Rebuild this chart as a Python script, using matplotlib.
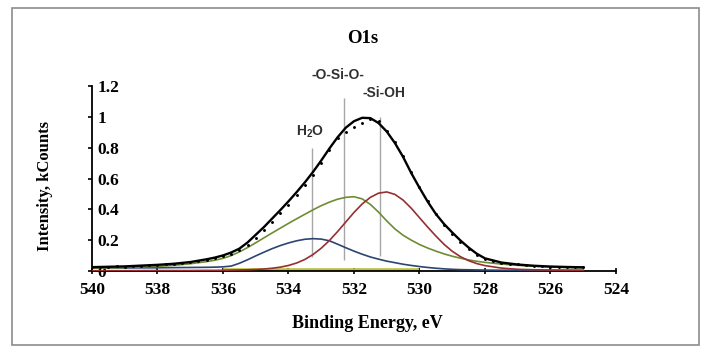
import numpy as np
import matplotlib
matplotlib.use("Agg")
import matplotlib.pyplot as plt
from matplotlib.patches import Rectangle

plt.rcParams["font.family"] = ["Liberation Serif", "DejaVu Serif"]
plt.rcParams["mathtext.fontset"] = "custom"
plt.rcParams["mathtext.rm"] = "Liberation Sans:bold"

# Binding energy grid (eV), denser where the peaks bend
energy = [540.0, 539.0, 538.0, 537.5, 537.0, 536.5, 536.25, 536.0, 535.75, 535.5,
          535.25, 535.0, 534.75, 534.5, 534.25, 534.0, 533.75, 533.5, 533.25, 533.0,
          532.75, 532.5, 532.25, 532.0, 531.75, 531.5, 531.25, 531.0, 530.75, 530.5,
          530.25, 530.0, 529.75, 529.5, 529.25, 529.0, 528.75, 528.5, 528.25, 528.0,
          527.5, 527.0, 526.5, 526.0, 525.5, 525.0]

envelope = [0.025, 0.030, 0.040, 0.047, 0.058, 0.076, 0.087, 0.101, 0.120, 0.145,
            0.185, 0.235, 0.285, 0.340, 0.395, 0.452, 0.512, 0.575, 0.643, 0.717,
            0.795, 0.868, 0.930, 0.972, 0.994, 0.992, 0.960, 0.905, 0.830, 0.740,
            0.635, 0.540, 0.450, 0.370, 0.305, 0.250, 0.198, 0.152, 0.112, 0.082,
            0.055, 0.042, 0.034, 0.029, 0.026, 0.024]

osio = [0.019, 0.023, 0.030, 0.037, 0.047, 0.061, 0.070, 0.082, 0.100, 0.124,
        0.152, 0.183, 0.215, 0.247, 0.278, 0.309, 0.339, 0.368, 0.397, 0.424,
        0.447, 0.466, 0.478, 0.482, 0.468, 0.432, 0.382, 0.325, 0.273, 0.232,
        0.200, 0.172, 0.149, 0.129, 0.111, 0.096, 0.083, 0.072, 0.063, 0.056,
        0.045, 0.037, 0.031, 0.026, 0.023, 0.020]

sioh = [0.002, 0.002, 0.003, 0.003, 0.003, 0.004, 0.004, 0.005, 0.006, 0.007,
        0.008, 0.010, 0.013, 0.018, 0.025, 0.036, 0.052, 0.075, 0.107, 0.148,
        0.198, 0.256, 0.318, 0.380, 0.435, 0.478, 0.505, 0.513, 0.497, 0.460,
        0.407, 0.346, 0.285, 0.227, 0.173, 0.128, 0.093, 0.067, 0.048, 0.035,
        0.019, 0.011, 0.008, 0.006, 0.005, 0.004]

h2o = [0.020, 0.020, 0.021, 0.022, 0.023, 0.024, 0.025, 0.027, 0.032, 0.050,
       0.073, 0.098, 0.122, 0.145, 0.165, 0.182, 0.196, 0.206, 0.210, 0.207,
       0.196, 0.174, 0.151, 0.129, 0.109, 0.091, 0.077, 0.064, 0.054, 0.044,
       0.036, 0.029, 0.023, 0.018, 0.014, 0.011, 0.009, 0.008, 0.007, 0.006,
       0.005, 0.005, 0.004, 0.004, 0.004, 0.004]

# background segment
bg_energy = [536.0, 530.0]
bg_level = [0.004, 0.004]

# measured points
pts_energy = [540.0, 539.75, 539.5, 539.25, 539.0, 538.75, 538.5, 538.25, 538.0, 537.75,
              537.5, 537.25, 537.0, 536.75, 536.5, 536.25, 536.0, 535.75, 535.5, 535.25,
              535.0, 534.75, 534.5, 534.25, 534.0, 533.75, 533.5, 533.25, 533.0, 532.75,
              532.5, 532.25, 532.0, 531.75, 531.5, 531.25, 531.0, 530.75, 530.5, 530.25,
              530.0, 529.75, 529.5, 529.25, 529.0, 528.75, 528.5, 528.25, 528.0, 527.75,
              527.5, 527.25, 527.0, 526.75, 526.5, 526.25, 526.0, 525.75, 525.5, 525.25,
              525.0]
pts_counts = [0.023, 0.027, 0.025, 0.030, 0.028, 0.034, 0.033, 0.039, 0.038, 0.045,
              0.046, 0.053, 0.056, 0.064, 0.073, 0.083, 0.096, 0.113, 0.136, 0.170,
              0.215, 0.265, 0.318, 0.375, 0.430, 0.490, 0.555, 0.625, 0.700, 0.785,
              0.860, 0.905, 0.935, 0.960, 0.985, 0.975, 0.910, 0.835, 0.745, 0.640,
              0.545, 0.455, 0.370, 0.298, 0.240, 0.190, 0.146, 0.106, 0.078, 0.064,
              0.054, 0.047, 0.043, 0.037, 0.035, 0.030, 0.029, 0.028, 0.025, 0.025,
              0.024]

# peak marker lines: position, bottom, top
marker_pos = [533.28, 532.3, 531.2]
marker_low = [0.09, 0.07, 0.10]
marker_high = [0.80, 1.12, 1.00]

fig = plt.figure(figsize=(7.02, 3.47), dpi=100)
ax = fig.add_axes([0.131, 0.219, 0.7465, 0.533])

ax.vlines(marker_pos, marker_low, marker_high, color="#a6a6a6", linewidth=1.0, zorder=1)
ax.plot(bg_energy, bg_level, color="#bcbf3a", linewidth=2.6, zorder=2, solid_capstyle="butt")
ax.plot(energy, h2o, color="#2b4570", linewidth=1.2, zorder=3)
ax.plot(energy, osio, color="#6e8c32", linewidth=1.2, zorder=3)
ax.plot(energy, sioh, color="#962f30", linewidth=1.2, zorder=3)
ax.plot(energy, envelope, color="black", linewidth=1.7, zorder=4)
ax.plot(pts_energy, pts_counts, linestyle="none", marker="o", markersize=1.1,
        color="black", zorder=5)

ax.set_xlim(540, 524)
ax.set_ylim(0, 1.2)
ax.set_xticks(np.arange(540, 523, -2))
ax.set_yticks([0, 0.2, 0.4, 0.6, 0.8, 1.0, 1.2])
ax.set_yticklabels(["0", "0.2", "0.4", "0.6", "0.8", "1", "1.2"])

for side in ["top", "right"]:
    ax.spines[side].set_visible(False)
for side in ["left", "bottom"]:
    ax.spines[side].set_linewidth(1.3)

ax.tick_params(axis="x", direction="inout", length=5, width=1.2, pad=5.5, labelsize=12.5)
ax.tick_params(axis="y", direction="out", length=3, width=1.2, pad=-7, labelsize=12.5)
for lab in ax.get_xticklabels() + ax.get_yticklabels():
    lab.set_fontweight("bold")
for lab in ax.get_yticklabels():
    lab.set_horizontalalignment("left")

sans = ["Liberation Sans", "DejaVu Sans"]
ax.text(532.5, 1.27, "-O-Si-O-", ha="center", va="center", fontsize=10, family=sans,
        fontweight="bold", color="#303030", clip_on=False)
ax.text(531.1, 1.155, "-Si-OH", ha="center", va="center", fontsize=10, family=sans,
        fontweight="bold", color="#303030", clip_on=False)
ax.text(533.33, 0.90, "H$_2$O", ha="center", va="center", fontsize=10, family=sans,
        fontweight="bold", color="#303030")

fig.text(0.517, 0.89, "O1s", ha="center", va="center", fontsize=13.5, fontweight="bold")
fig.text(0.524, 0.068, "Binding Energy, eV", ha="center", va="center", fontsize=13,
         fontweight="bold")
fig.text(0.064, 0.464, "Intensity, kCounts", ha="center", va="center", fontsize=12,
         fontweight="bold", rotation=90)

fig.patches.append(Rectangle((0.017, 0.006), 0.979, 0.971, transform=fig.transFigure,
                             fill=False, edgecolor="#8c8c8c", linewidth=1.2))

fig.savefig("out.png", dpi=100)
